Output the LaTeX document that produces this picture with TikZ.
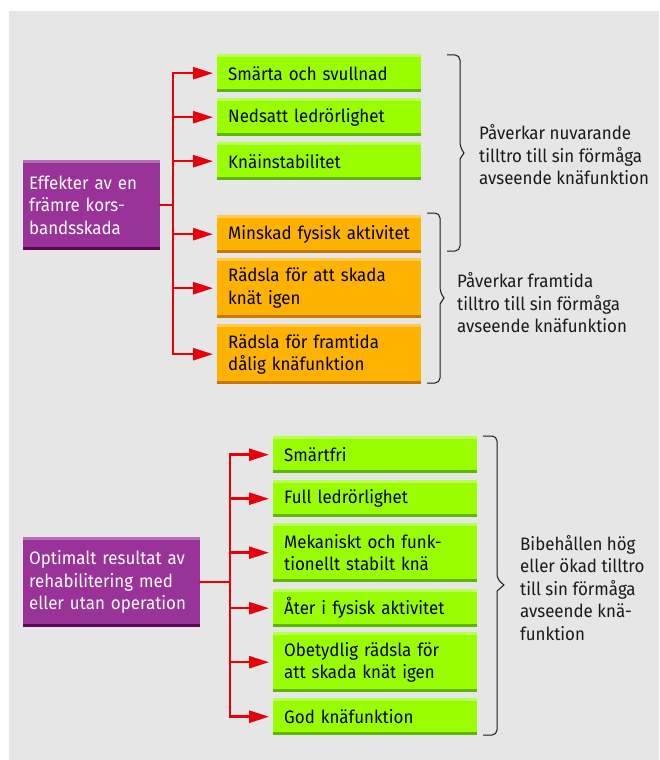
\documentclass[tikz,border=0pt]{standalone}
\usepackage{fontspec}
\setmainfont[FakeStretch=0.94]{Fira Sans}
\usetikzlibrary{arrows.meta}

\definecolor{bggray}{HTML}{E6E6E6}
\definecolor{boxgreen}{HTML}{99FF00}
\definecolor{greentop}{HTML}{BBFF55}
\definecolor{greenbot}{HTML}{5DB800}
\definecolor{boxorange}{HTML}{FFB300}
\definecolor{orangetop}{HTML}{FFCA4D}
\definecolor{orangebot}{HTML}{C77800}
\definecolor{boxpurple}{HTML}{993399}
\definecolor{purpletop}{HTML}{B570B5}
\definecolor{purplebot}{HTML}{5A0A55}
\definecolor{arrowred}{HTML}{E8000B}
\definecolor{labelgray}{HTML}{1A1A1A}

\begin{document}
\begin{tikzpicture}[x=1pt,y=-1pt,
    box/.style n args={3}{anchor=north west, fill=#1, minimum width=204pt,
      minimum height=38pt, text width=182pt, inner xsep=11pt, inner ysep=0pt,
      align=left, text=black, font=\fontsize{18}{22.5}\selectfont,
      path picture={
        \fill[#2] (path picture bounding box.north west) rectangle ([yshift=-2.5pt]path picture bounding box.north east);
        \fill[#3] (path picture bounding box.south west) rectangle ([yshift=3.5pt]path picture bounding box.south east);}},
    green/.style={box={boxgreen}{greentop}{greenbot}},
    orange/.style={box={boxorange}{orangetop}{orangebot}},
    purple/.style={box={boxpurple}{purpletop}{purplebot}, text=white,
      minimum width=0pt, minimum height=90pt, inner xsep=6pt},
    tall/.style={minimum height=60pt},
    note/.style={anchor=west, align=left, inner sep=0pt, text=labelgray,
      font=\fontsize{18}{22.5}\selectfont},
    trunk/.style={draw=arrowred, line width=2.5pt, line cap=rect},
    arr/.style={draw=arrowred, line width=2.5pt,
      -{Triangle[length=20pt,width=12pt]}, shorten >=4pt},
    bracket/.style={draw=labelgray, line width=1pt, rounded corners=5pt}]
  \useasboundingbox (0,0) rectangle (659,760);
  \fill[bggray] (9,11) rectangle (659,760);

  % effects of the injury
  \node[purple, text width=125pt] (eff) at (23,160) {Effekter av en\\främre kors-\\bandsskada};
  \node[green] (s1) at (217,54) {Smärta och svullnad};
  \node[green] (s2) at (217,98) {Nedsatt ledrörlighet};
  \node[green] (s3) at (217,142) {Knäinstabilitet};
  \node[orange] (s4) at (217,215) {Minskad fysisk aktivitet};
  \node[orange, tall] (s5) at (217,258) {Rädsla för att skada\\knät igen};
  \node[orange, tall] (s6) at (217,324) {Rädsla för framtida\\dålig knäfunktion};

  \coordinate (tA) at (173,0);
  \draw[trunk] (eff.east) -- (tA |- eff.east);
  \draw[trunk] (tA |- s1.west) -- (tA |- s6.west);
  \foreach \n in {1,...,6}
    \draw[arr] (tA |- s\n.west) -- (s\n.west);

  % optimal result
  \node[purple, text width=165pt] (opt) at (23,537) {Optimalt resultat av\\rehabilitering med\\eller utan operation};
  \node[green, minimum height=37pt] (r1) at (273,436) {Smärtfri};
  \node[green, minimum height=37pt] (r2) at (273,480) {Full ledrörlighet};
  \node[green, minimum height=59pt] (r3) at (273,523) {Mekaniskt och funk-\\tionellt stabilt knä};
  \node[green] (r4) at (273,589) {Åter i fysisk aktivitet};
  \node[green, tall] (r5) at (273,632) {Obetydlig rädsla för\\att skada knät igen};
  \node[green, minimum height=37pt] (r6) at (273,698) {God knäfunktion};

  \coordinate (tB) at (230,0);
  \draw[trunk] (opt.east) -- (tB |- opt.east);
  \draw[trunk] (tB |- r1.west) -- (tB |- r6.west);
  \foreach \n in {1,...,6}
    \draw[arr] (tB |- r\n.west) -- (r\n.west);

  % braces and their texts
  \foreach \x/\t/\m/\b/\a/\p in {447/55/153/251/13/17, 427/213/298/383/13/17, 483/436/585/735/14/21}
    \draw[bracket] (\x,\t) -| (\x+\a,\m-6) [sharp corners] -- (\x+\p,\m)
      -- (\x+\a,\m+6) [rounded corners=5pt] |- (\x,\b);
  \node[note] (n1) at (479,155) {Påverkar nuvarande\\tilltro till sin förmåga\\avseende knäfunktion};
  \node[note] (n2) at (457,303) {Påverkar framtida\\tilltro till sin förmåga\\avseende knäfunktion};
  \node[note] (n3) at (520,588) {Bibehållen hög\\eller ökad tilltro\\till sin förmåga\\avseende knä-\\funktion};
\end{tikzpicture}
\end{document}
